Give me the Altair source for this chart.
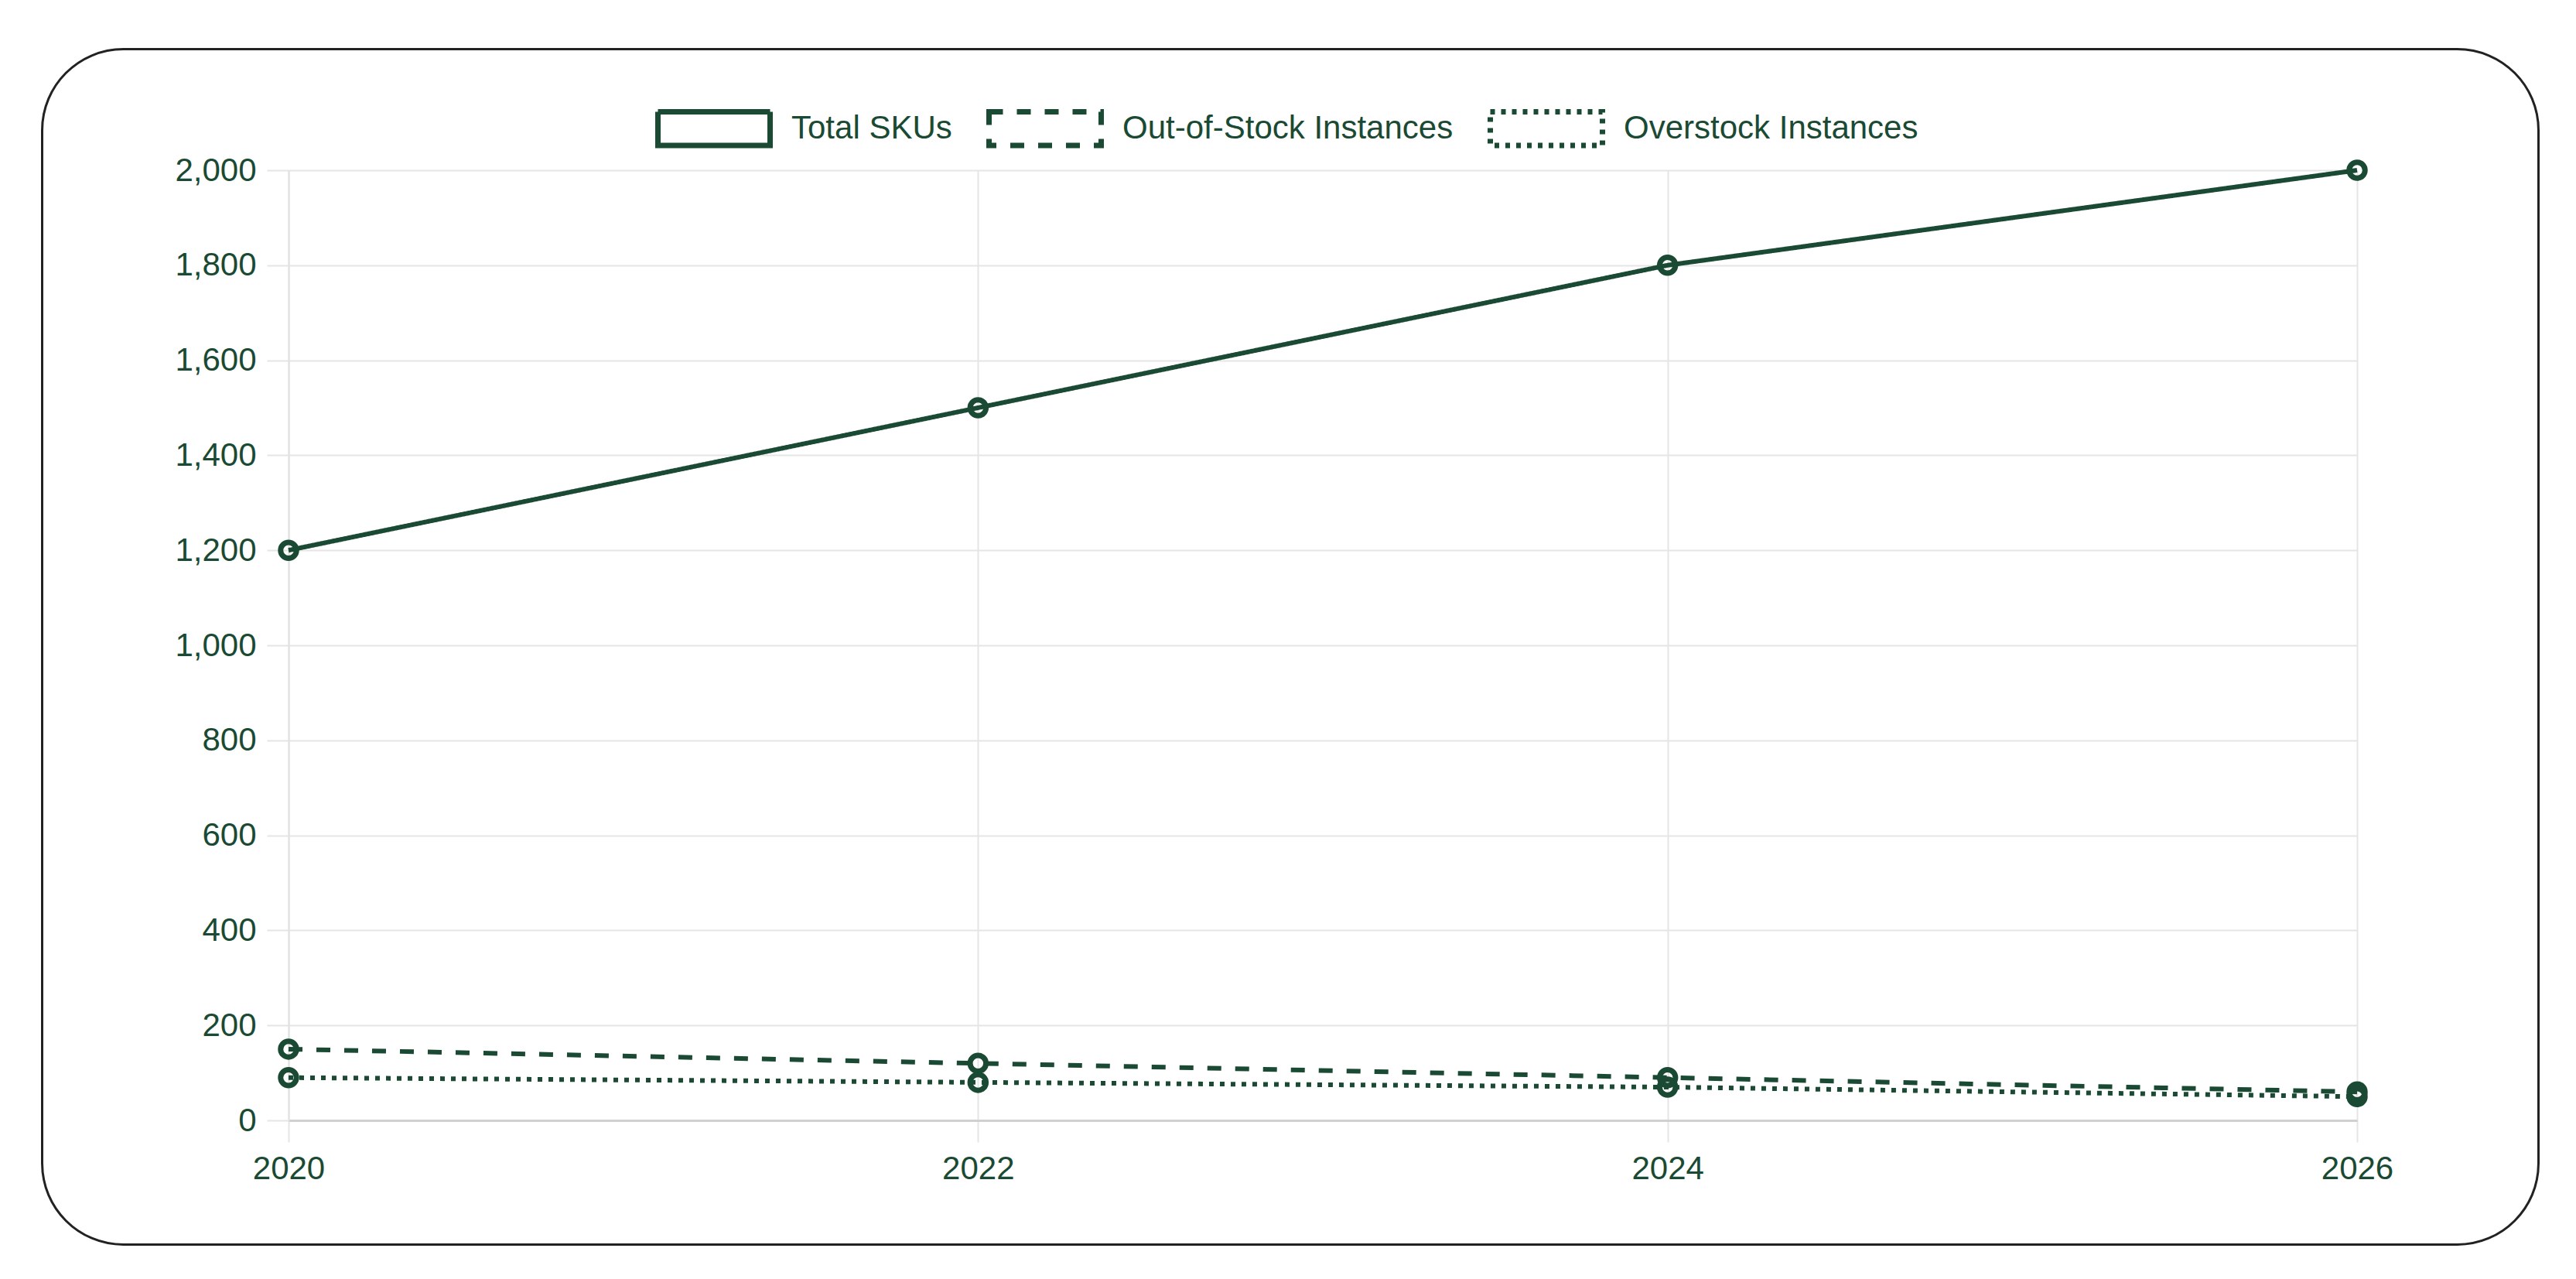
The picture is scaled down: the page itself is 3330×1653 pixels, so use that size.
import altair as alt
import pandas as pd

# ---- data ----
years = [2020, 2022, 2024, 2026]
total_skus = [1200, 1500, 1800, 2000]
out_of_stock = [150, 120, 90, 60]
overstock = [90, 80, 70, 50]
series_names = ["Total SKUs", "Out-of-Stock Instances", "Overstock Instances"]
y_ticks = [0, 200, 400, 600, 800, 1000, 1200, 1400, 1600, 1800, 2000]

rows = []
for name, vals in zip(series_names, [total_skus, out_of_stock, overstock]):
    for yr, v in zip(years, vals):
        rows.append({"year": yr, "value": v, "series": name})
df = pd.DataFrame(rows)

GREEN = "#1a4a33"
FONT = "Liberation Sans"
W, H = 2674, 1228

x = alt.X("year:Q",
          scale=alt.Scale(domain=[2020, 2026], nice=False, zero=False),
          axis=alt.Axis(values=years, format="d", title=None, labelFlush=False,
                        domainColor="#d0d0d0", domainWidth=3))
y = alt.Y("value:Q",
          scale=alt.Scale(domain=[0, 2000], nice=False),
          axis=alt.Axis(values=y_ticks, format=",d", title=None, labelFlush=False,
                        domainColor="#e2e2e2", domainWidth=2))

legend = alt.Legend(
    orient="none", legendX=474, legendY=-130, direction="horizontal",
    symbolType="M-1,-0.3L1,-0.3L1,0.3L-1,0.3Z",
    symbolSize=21025, symbolStrokeWidth=7, symbolStrokeColor=GREEN,
    symbolFillColor="white", symbolOpacity=1,
    labelFontSize=42, labelColor=GREEN, labelFont=FONT, labelLimit=1000,
    labelOffset=24, columnPadding=33,
)

border = alt.Chart(pd.DataFrame({"k": [0]})).mark_rect(
    fill="white", fillOpacity=0, stroke="#222222", strokeWidth=3,
    cornerRadius=105, clip=False
).encode(
    x=alt.value(-318.5), x2=alt.value(W + 234.5),
    y=alt.value(-156.5), y2=alt.value(H + 160.5),
)

lines = alt.Chart(df).mark_line(color=GREEN, strokeWidth=6).encode(
    x=x, y=y,
    strokeDash=alt.StrokeDash(
        "series:N", title=None,
        scale=alt.Scale(domain=series_names, range=[[1, 0], [18, 18], [6, 8]]),
        sort=series_names, legend=legend),
)

points = alt.Chart(df).mark_point(
    filled=False, color=GREEN, strokeWidth=7, size=420, opacity=1
).encode(x=x, y=y, detail="series:N")

chart = alt.layer(border, lines, points).properties(
    width=W, height=H, background="white",
    padding={"left": 45, "top": 54, "right": 10, "bottom": 10}
).configure_axis(
    grid=True, gridColor="#e5e5e5", gridWidth=2,
    tickSize=28, tickColor="#e5e5e5", tickWidth=2,
    labelFontSize=42, labelColor=GREEN, labelFont=FONT, labelPadding=14,
).configure_view(strokeWidth=0)

chart.save("out.html", embed_options={"renderer": "svg", "actions": False})
